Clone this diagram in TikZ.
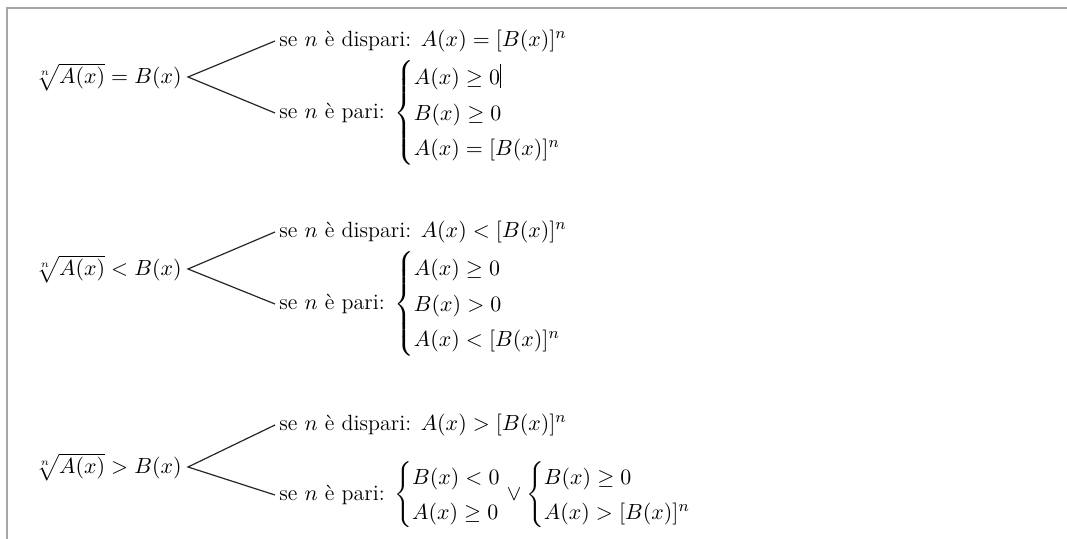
\documentclass[tikz,border=0pt]{standalone}
\usepackage{amsmath,amssymb}
\usepackage{fontspec}
\usetikzlibrary{positioning}
\newcommand{\sistema}[1]{\left\{\def\arraystretch{1.3}\begin{array}{@{}l@{}}#1\end{array}\right.}
\newcommand{\cursore}{\rule[-0.35ex]{0.5pt}{2.5ex}}

\begin{document}
\begin{tikzpicture}[x=0.5pt,y=-0.5pt,font=\fontsize{11}{13.6}\selectfont,
  radice/.style={anchor=east,inner sep=3pt},
  caso/.style={anchor=west,inner sep=2pt},
  ramo/.style={line width=0.6pt,black!85}]
\useasboundingbox (0,0) rectangle (1067,539);
\draw[gray!70,line width=1pt] (1067,8) -- (7,8) -- (7,539);
% uguale
\node[radice] (r1) at (188,77) {$\sqrt[n]{A(x)}=B(x)$};
\node[caso] (d1) at (275,41) {se $n$ è dispari: $A(x)=[B(x)]^n$};
\node[caso] (p1) at (275,113) {se $n$ è pari: $\sistema{A(x)\geq 0\cursore\\ B(x)\geq 0\\ A(x)=[B(x)]^n}$};
\draw[ramo] (d1.west) -- (r1.east) -- (p1.west);
% minore
\node[radice] (r2) at (188,269) {$\sqrt[n]{A(x)}<B(x)$};
\node[caso] (d2) at (275,232) {se $n$ è dispari: $A(x)<[B(x)]^n$};
\node[caso] (p2) at (275,304) {se $n$ è pari: $\sistema{A(x)\geq 0\\ B(x)>0\\ A(x)<[B(x)]^n}$};
\draw[ramo] (d2.west) -- (r2.east) -- (p2.west);
% maggiore
\node[radice] (r3) at (188,467) {$\sqrt[n]{A(x)}>B(x)$};
\node[caso] (d3) at (275,425) {se $n$ è dispari: $A(x)>[B(x)]^n$};
\node[caso] (p3) at (275,495) {se $n$ è pari: $\sistema{B(x)<0\\ A(x)\geq 0}\vee\sistema{B(x)\geq 0\\ A(x)>[B(x)]^n}$};
\draw[ramo] (d3.west) -- (r3.east) -- (p3.west);
\end{tikzpicture}
\end{document}
